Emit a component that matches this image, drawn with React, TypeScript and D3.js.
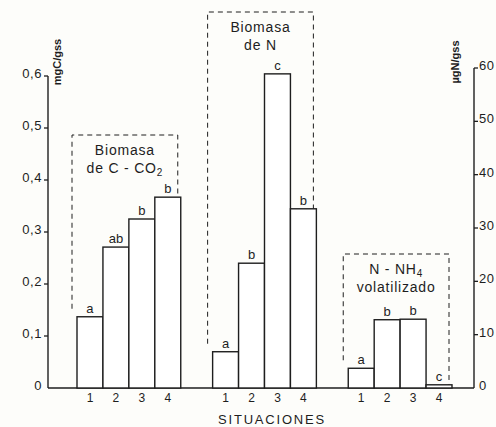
import React from 'react';
import * as d3 from 'd3';

// groups of bars (each with its own dashed caption box)
const groups = ['C', 'N', 'NH4'];
const situations = ['1', '2', '3', '4'];

// bar heights
const biomasaC = [0.137, 0.271, 0.325, 0.367];   // mgC/gss (left axis)
const biomasaN = [6.8, 23.4, 58.9, 33.6];         // µgN/gss (right axis)
const nh4Volat = [3.7, 12.8, 12.9, 0.6];          // µgN/gss (right axis)

const letterC = ['a', 'ab', 'b', 'b'];
const letterN = ['a', 'b', 'c', 'b'];
const letterNH4 = ['a', 'b', 'b', 'c'];

const leftTicks = [0, 0.1, 0.2, 0.3, 0.4, 0.5, 0.6];
const rightTicks = [0, 10, 20, 30, 40, 50, 60];

const W = 496;
const H = 427;
const FONT = '"Liberation Sans", Arial, sans-serif';
const INK = '#1e1e1e';

export default function App() {
  const axL = 48;
  const axR = 474;
  const base = 388;

  const yLeft = d3.scaleLinear().domain([0, 0.6]).range([base, 76]);
  const yRight = d3.scaleLinear().domain([0, 60]).range([base, 68]);

  const xGroup = d3.scaleBand<string>().domain(groups).range([77, 452]).paddingInner(0.235);
  const xSit = d3.scaleBand<string>().domain(situations).range([0, xGroup.bandwidth()]);

  const series = [
    { key: 'C', values: biomasaC, letters: letterC, y: yLeft, boxTop: 135, lines: ['Biomasa', 'de C - CO'], sub: '2' },
    { key: 'N', values: biomasaN, letters: letterN, y: yRight, boxTop: 12, lines: ['Biomasa', 'de  N'], sub: '' },
    { key: 'NH4', values: nh4Volat, letters: letterNH4, y: yRight, boxTop: 254, lines: ['N - NH', 'volatilizado'], sub: '4' },
  ];

  const fmt = (v: number) => (v === 0 ? '0' : d3.format('.1f')(v).replace('.', ','));

  return (
    <svg width={W} height={H} style={{ position: 'absolute', left: 0, top: 0, background: '#fdfdfa' }}>
      <g fontFamily={FONT} fill={INK}>
        {/* axes */}
        <line x1={axL} x2={axL} y1={yLeft(0.6)} y2={base} stroke={INK} strokeWidth={1.4} />
        <line x1={axR} x2={axR} y1={yRight(60)} y2={base} stroke={INK} strokeWidth={1.4} />
        <line x1={axL} x2={axR} y1={base} y2={base} stroke={INK} strokeWidth={1.4} />

        {leftTicks.map(t => (
          <g key={'l' + t}>
            {t > 0 && <line x1={axL - 4} x2={axL} y1={yLeft(t)} y2={yLeft(t)} stroke={INK} strokeWidth={1.3} />}
            <text x={axL - 6} y={yLeft(t)} dy="0.15em" textAnchor="end" fontSize={13} letterSpacing={0.6}>
              {fmt(t)}
            </text>
          </g>
        ))}
        {rightTicks.map(t => (
          <g key={'r' + t}>
            {t > 0 && <line x1={axR} x2={axR + 4} y1={yRight(t)} y2={yRight(t)} stroke={INK} strokeWidth={1.3} />}
            <text x={axR + 5} y={yRight(t)} dy="0.15em" fontSize={13} letterSpacing={0.6}>
              {t}
            </text>
          </g>
        ))}

        <text transform={`translate(61,62) rotate(-90)`} textAnchor="middle" fontSize={11} fontWeight="bold">
          mgC/gss
        </text>
        <text transform={`translate(459,62) rotate(-90)`} textAnchor="middle" fontSize={11} fontWeight="bold">
          µgN/gss
        </text>

        {series.map(s => {
          const gx = xGroup(s.key) as number;
          const bw = xSit.bandwidth();
          const boxL = gx - 5;
          const boxR = gx + xGroup.bandwidth() - 3;
          const cx = (boxL + boxR) / 2;
          return (
            <g key={s.key}>
              {/* dashed caption box */}
              <path
                d={`M${boxL},${s.y(s.values[0]) - 8} V${s.boxTop} H${boxR} V${s.y(s.values[3])}`}
                fill="none"
                stroke={INK}
                strokeWidth={1}
                strokeDasharray="5,4"
              />
              <text x={cx} y={s.boxTop + 20} textAnchor="middle" fontSize={14} letterSpacing={0.8}>
                {s.lines[0]}
                {s.key === 'NH4' && <tspan fontSize={10} dy={3}>{s.sub}</tspan>}
              </text>
              <text x={cx} y={s.boxTop + 38} textAnchor="middle" fontSize={14} letterSpacing={0.8}>
                {s.lines[1]}
                {s.key === 'C' && <tspan fontSize={10} dy={3}>{s.sub}</tspan>}
              </text>

              {s.values.map((v, i) => {
                const x = gx + (xSit(situations[i]) as number);
                const y = s.y(v);
                return (
                  <g key={i}>
                    <rect x={x} y={y} width={bw} height={base - y} fill="#fff" stroke={INK} strokeWidth={1.4} />
                    <text x={x + bw / 2} y={y - 4} textAnchor="middle" fontSize={13}>
                      {s.letters[i]}
                    </text>
                    <text x={x + bw / 2} y={base + 14} textAnchor="middle" fontSize={12}>
                      {situations[i]}
                    </text>
                  </g>
                );
              })}
            </g>
          );
        })}

        <text x={272} y={424} textAnchor="middle" fontSize={13} letterSpacing={1.8}>
          SITUACIONES
        </text>
      </g>
    </svg>
  );
}
